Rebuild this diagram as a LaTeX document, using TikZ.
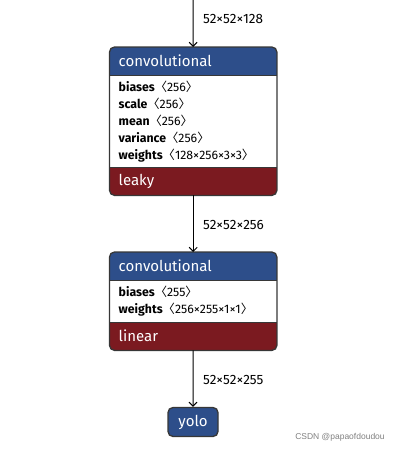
\documentclass[tikz,border=0pt]{standalone}
\usepackage{fontspec}
\setmainfont{Fira Sans}
\newfontfamily\wmfont{Liberation Sans}
\newfontfamily\brfont{Noto Sans CJK SC}
\newcommand{\lbr}{{\brfont 〈}}
\newcommand{\rbr}{{\brfont 〉}}
\usetikzlibrary{arrows.meta,backgrounds}
\definecolor{convblue}{RGB}{45,78,138}
\definecolor{actred}{RGB}{123,26,32}
\definecolor{edgegray}{RGB}{55,55,55}
\begin{document}
\begin{tikzpicture}[
    x=1pt, y=-1pt,
    part/.style={rectangle, anchor=north west, minimum width=167pt, text width=149pt, inner xsep=9pt, inner ysep=0pt, align=left},
    header/.style={part, minimum height=28pt, text=white, font=\fontsize{15}{17}\selectfont},
    params/.style={part, font=\fontsize{12.3}{17}\selectfont},
    footer/.style={header},
    outline/.style={draw=edgegray, line width=1.3pt, rounded corners=5pt},
    divider/.style={draw=edgegray, line width=1pt},
    yolobox/.style={rectangle, draw=edgegray, line width=1.3pt, rounded corners=5pt, fill=convblue, text=white, minimum width=50pt, minimum height=29pt, font=\fontsize{15}{17}\selectfont},
    flow/.style={-{Straight Barb[length=4pt,width=8pt]}, line width=1pt},
    shapelabel/.style={anchor=west, inner xsep=0pt, font=\fontsize{13.5}{15}\selectfont}
]
\useasboundingbox (0,0) rectangle (403,451);

% first convolutional layer
\node[header] (conv1) at (109.5,47) {convolutional};
\node[params, minimum height=92pt] (par1) at (109.5,75) {\textbf{biases}\lbr256\rbr\\\textbf{scale}\lbr256\rbr\\\textbf{mean}\lbr256\rbr\\\textbf{variance}\lbr256\rbr\\\textbf{weights}\lbr128×256×3×3\rbr};
\node[footer] (act1) at (109.5,167) {leaky};

% second convolutional layer
\node[header] (conv2) at (109.5,252) {convolutional};
\node[params, minimum height=42pt] (par2) at (109.5,280) {\textbf{biases}\lbr255\rbr\\\textbf{weights}\lbr256×255×1×1\rbr};
\node[footer] (act2) at (109.5,322) {linear};

% output
\node[yolobox] (yolo) at (193,422) {yolo};
\coordinate (input) at (193,0);

% fills behind the boxes
\begin{scope}[on background layer]
  \begin{scope}
    \clip[rounded corners=5pt] (conv1.north west) rectangle (act1.south east);
    \fill[convblue] (conv1.north west) rectangle (conv1.south east);
    \fill[white] (par1.north west) rectangle (par1.south east);
    \fill[actred] (act1.north west) rectangle (act1.south east);
  \end{scope}
  \begin{scope}
    \clip[rounded corners=5pt] (conv2.north west) rectangle (act2.south east);
    \fill[convblue] (conv2.north west) rectangle (conv2.south east);
    \fill[white] (par2.north west) rectangle (par2.south east);
    \fill[actred] (act2.north west) rectangle (act2.south east);
  \end{scope}
\end{scope}
\draw[outline] (conv1.north west) rectangle (act1.south east);
\draw[divider] (par1.north west) -- (par1.north east);
\draw[divider] (act1.north west) -- (act1.north east);
\draw[outline] (conv2.north west) rectangle (act2.south east);
\draw[divider] (par2.north west) -- (par2.north east);
\draw[divider] (act2.north west) -- (act2.north east);

% data flow
\draw[flow] (input) -- (conv1);
\draw[flow] (act1) -- (conv2);
\draw[flow] (act2) -- (yolo);

\node[shapelabel] (shape1) at (203,19) {52×52×128};
\node[shapelabel] (shape2) at (203,225) {52×52×256};
\node[shapelabel] (shape3) at (203,380) {52×52×255};

\node[text=gray, font=\wmfont\fontsize{8.5}{10}\selectfont] (mark) at (340,437) {CSDN @papaofdoudou};
\end{tikzpicture}
\end{document}
